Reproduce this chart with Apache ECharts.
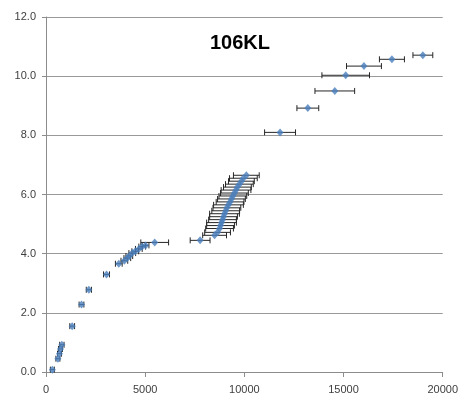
<!DOCTYPE html>
<html>
<head>
<meta charset="utf-8">
<script src="https://cdn.jsdelivr.net/npm/echarts@6/dist/echarts.min.js"></script>
<style>
html,body{margin:0;padding:0;background:#fff;}
#c{width:461px;height:404px;}
</style>
</head>
<body>
<div id="c"></div>
<script>
// Data
const xVals = [320, 600, 680, 730, 800, 1320, 1790, 2160, 3050, 3670, 3950, 4100, 4200, 4350, 4500, 4680, 4850, 5020, 5480, 7770,
  8500, 8650, 8750, 8800, 8850, 8900, 8950, 9000, 9060, 9120, 9200, 9280, 9350, 9420, 9500, 9580, 9650, 9750, 9850, 9950, 10100,
  11800, 13200, 14560, 15110, 16030, 17440, 19000];
const yVals = [0.08, 0.45, 0.62, 0.78, 0.92, 1.55, 2.28, 2.78, 3.30, 3.66, 3.76, 3.85, 3.92, 4.02, 4.08, 4.16, 4.24, 4.28, 4.38, 4.45,
  4.62, 4.72, 4.85, 4.95, 5.05, 5.15, 5.25, 5.35, 5.45, 5.55, 5.65, 5.75, 5.85, 5.95, 6.05, 6.15, 6.25, 6.35, 6.45, 6.55, 6.65,
  8.10, 8.92, 9.50, 10.03, 10.34, 10.57, 10.71];
const xErr = [100, 100, 100, 100, 110, 120, 120, 130, 150, 170, 170, 170, 170, 170, 170, 170, 170, 170, 700, 500,
  600, 650, 700, 700, 750, 700, 700, 750, 700, 700, 750, 700, 700, 700, 700, 750, 700, 700, 650, 700, 650,
  780, 550, 1000, 1200, 880, 630, 500];
const xTicks = [0, 5000, 10000, 15000, 20000];
const yTicks = ['0.0', '2.0', '4.0', '6.0', '8.0', '10.0', '12.0'];

const points = xVals.map((x, i) => [x, yVals[i]]);
const errData = xVals.map((x, i) => [x - xErr[i], x + xErr[i], yVals[i]]);

const chart = echarts.init(document.getElementById('c'), null, {renderer: 'canvas'});
const axisColor = '#8c8c8c';
chart.setOption({
  animation: false,
  backgroundColor: '#fff',
  title: {
    text: '106KL',
    left: 235, top: 28, textAlign: 'center',
    textStyle: {fontFamily: 'Liberation Sans', fontWeight: 'bold', fontSize: 20, color: '#000'}
  },
  grid: {left: 46, right: 16, top: 17, bottom: 32},
  xAxis: {
    type: 'value', min: 0, max: 20000, interval: 5000,
    axisLine: {show: true, lineStyle: {color: axisColor, width: 1}},
    axisTick: {show: true, length: 5, inside: false, lineStyle: {color: axisColor}},
    splitLine: {show: false},
    axisLabel: {color: '#404040', fontFamily: 'Liberation Sans', fontSize: 11, margin: 12,
      formatter: v => xTicks.indexOf(v) >= 0 ? String(v) : ''}
  },
  yAxis: {
    type: 'value', min: 0, max: 12, interval: 2,
    axisLine: {show: true, onZero: false, lineStyle: {color: axisColor, width: 1}},
    axisTick: {show: true, length: 4, lineStyle: {color: axisColor}},
    splitLine: {show: true, lineStyle: {color: '#999999', width: 1}},
    axisLabel: {color: '#404040', fontFamily: 'Liberation Sans', fontSize: 11, margin: 10,
      formatter: v => yTicks[Math.round(v / 2)]}
  },
  series: [
    {
      type: 'custom',
      data: errData,
      z: 2,
      renderItem: function (params, api) {
        const y = api.value(2);
        const p1 = api.coord([api.value(0), y]);
        const p2 = api.coord([api.value(1), y]);
        const h = 3;
        const style = {stroke: '#262626', lineWidth: 1};
        return {
          type: 'group',
          children: [
            {type: 'line', shape: {x1: p1[0], y1: p1[1], x2: p2[0], y2: p2[1]}, style: style},
            {type: 'line', shape: {x1: p1[0], y1: p1[1] - h, x2: p1[0], y2: p1[1] + h}, style: style},
            {type: 'line', shape: {x1: p2[0], y1: p2[1] - h, x2: p2[0], y2: p2[1] + h}, style: style}
          ]
        };
      },
      encode: {x: [0, 1], y: 2}
    },
    {
      type: 'scatter',
      data: points,
      z: 3,
      symbol: 'diamond',
      symbolSize: [7, 8],
      itemStyle: {color: '#4a7ebb'}
    }
  ]
});
</script>
</body>
</html>
